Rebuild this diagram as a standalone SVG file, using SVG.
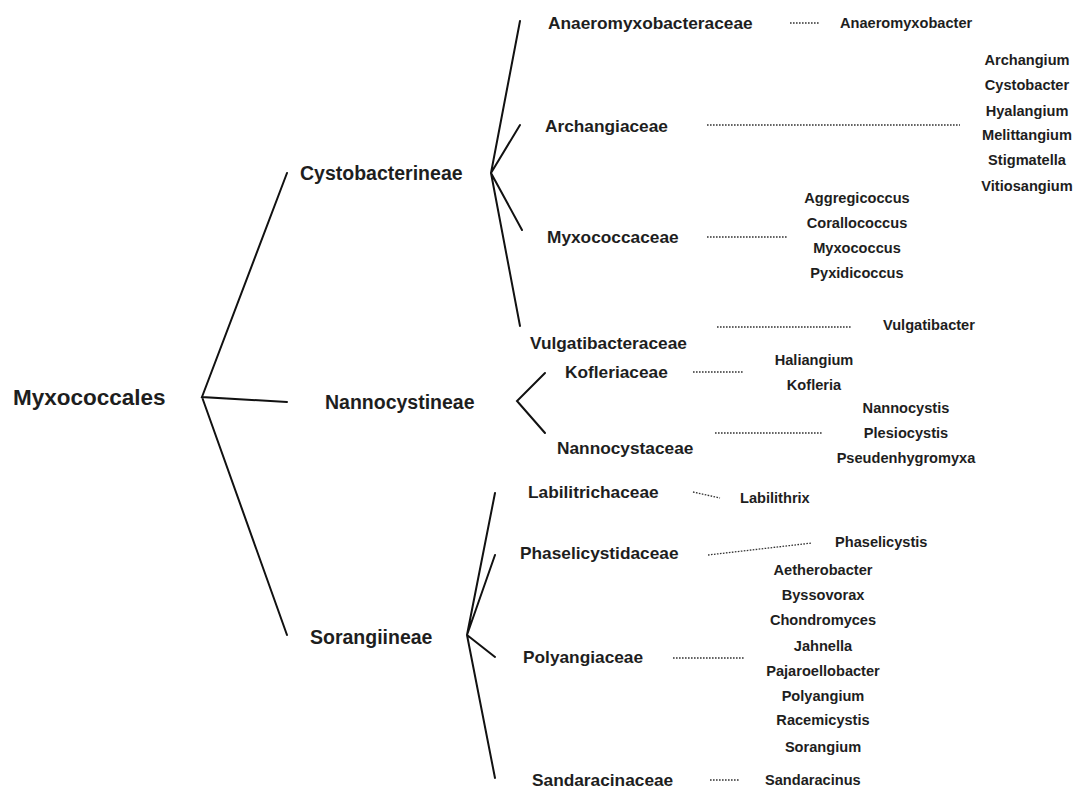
<svg xmlns="http://www.w3.org/2000/svg" width="1080" height="788" viewBox="0 0 1080 788">
<style>
text{font-family:"Liberation Sans",Arial,sans-serif;font-weight:bold;fill:#1e1e1e;dominant-baseline:central}
.root{font-size:22.5px}
.sub{font-size:19.5px}
.fam{font-size:17.3px}
.gen{font-size:14.6px;text-anchor:middle}
.gs{font-size:14.6px}
.br{stroke:#111;stroke-width:2;fill:none;stroke-linecap:round}
.dot{stroke:#333;stroke-width:1.3;stroke-dasharray:1.6 1.4;fill:none}
</style>
<rect width="1080" height="788" fill="#fff"/>
<g id="connectors">
<path class="br" d="M287 173 L202 397 L287 402 M202 397 L287 635"/>
<path class="br" d="M520 21 L491 173 L520 125 M491 173 L522 230 M491 173 L520 326"/>
<path class="br" d="M545 373 L517 401 L545 433"/>
<path class="br" d="M495 493 L467 635 L495 555 M467 635 L495 657 M467 635 L495 778"/>
<path class="dot" d="M790 23 H820"/>
<path class="dot" d="M707 125 H960"/>
<path class="dot" d="M707 237 H787"/>
<path class="dot" d="M717 327 H852"/>
<path class="dot" d="M693 372 H743"/>
<path class="dot" d="M715 433 H823"/>
<path class="dot" d="M693 492 L720 498"/>
<path class="dot" d="M708 555 L812 543"/>
<path class="dot" d="M673 658 H745"/>
<path class="dot" d="M710 780 H740"/>
</g>
<g id="myxococcales"><text class="root" x="13" y="397">Myxococcales</text></g>
<g id="cystobacterineae"><text class="sub" x="300" y="173">Cystobacterineae</text></g>
<g id="nannocystineae"><text class="sub" x="325" y="402">Nannocystineae</text></g>
<g id="sorangiineae"><text class="sub" x="310" y="637">Sorangiineae</text></g>
<g id="anaeromyxobacteraceae"><text class="fam" x="548" y="23">Anaeromyxobacteraceae</text></g>
<g id="archangiaceae"><text class="fam" x="545" y="126">Archangiaceae</text></g>
<g id="myxococcaceae"><text class="fam" x="547" y="237">Myxococcaceae</text></g>
<g id="vulgatibacteraceae"><text class="fam" x="530" y="343">Vulgatibacteraceae</text></g>
<g id="kofleriaceae"><text class="fam" x="565" y="372">Kofleriaceae</text></g>
<g id="nannocystaceae"><text class="fam" x="557" y="448">Nannocystaceae</text></g>
<g id="labilitrichaceae"><text class="fam" x="528" y="492">Labilitrichaceae</text></g>
<g id="phaselicystidaceae"><text class="fam" x="520" y="553">Phaselicystidaceae</text></g>
<g id="polyangiaceae"><text class="fam" x="523" y="657">Polyangiaceae</text></g>
<g id="sandaracinaceae"><text class="fam" x="532" y="780">Sandaracinaceae</text></g>
<g id="anaeromyxobacter"><text class="gs" x="840" y="23">Anaeromyxobacter</text></g>
<g id="archangiaceae-genera">
<text class="gen" x="1027" y="60">Archangium</text>
<text class="gen" x="1027" y="85">Cystobacter</text>
<text class="gen" x="1027" y="111">Hyalangium</text>
<text class="gen" x="1027" y="135">Melittangium</text>
<text class="gen" x="1027" y="160">Stigmatella</text>
<text class="gen" x="1027" y="186">Vitiosangium</text>
</g>
<g id="myxococcaceae-genera">
<text class="gen" x="857" y="198">Aggregicoccus</text>
<text class="gen" x="857" y="223">Corallococcus</text>
<text class="gen" x="857" y="248">Myxococcus</text>
<text class="gen" x="857" y="273">Pyxidicoccus</text>
</g>
<g id="vulgatibacter"><text class="gs" x="883" y="325">Vulgatibacter</text></g>
<g id="kofleriaceae-genera">
<text class="gen" x="814" y="360">Haliangium</text>
<text class="gen" x="814" y="385">Kofleria</text>
</g>
<g id="nannocystaceae-genera">
<text class="gen" x="906" y="408">Nannocystis</text>
<text class="gen" x="906" y="433">Plesiocystis</text>
<text class="gen" x="906" y="458">Pseudenhygromyxa</text>
</g>
<g id="labilithrix"><text class="gs" x="740" y="498">Labilithrix</text></g>
<g id="phaselicystis"><text class="gs" x="835" y="542">Phaselicystis</text></g>
<g id="polyangiaceae-genera">
<text class="gen" x="823" y="570">Aetherobacter</text>
<text class="gen" x="823" y="595">Byssovorax</text>
<text class="gen" x="823" y="620">Chondromyces</text>
<text class="gen" x="823" y="646">Jahnella</text>
<text class="gen" x="823" y="671">Pajaroellobacter</text>
<text class="gen" x="823" y="696">Polyangium</text>
<text class="gen" x="823" y="720">Racemicystis</text>
<text class="gen" x="823" y="747">Sorangium</text>
</g>
<g id="sandaracinus"><text class="gs" x="765" y="780">Sandaracinus</text></g>
</svg>
